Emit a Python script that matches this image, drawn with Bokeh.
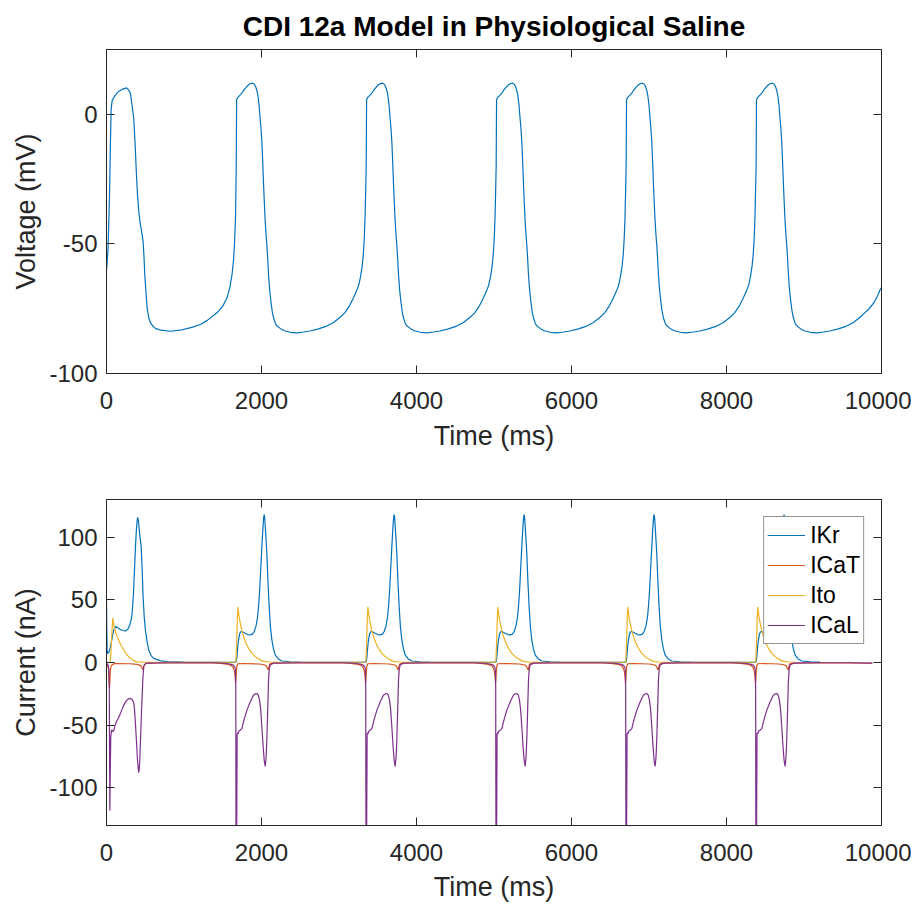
from bokeh.plotting import figure
from bokeh.models import LinearAxis, FixedTicker, Legend, LegendItem, Range1d
from bokeh.layouts import column
from bokeh.embed import file_html
from bokeh.resources import INLINE

# ---------------- data ----------------
TITLE = "CDI 12a Model in Physiological Saline"
X_TICKS = [0, 2000, 4000, 6000, 8000, 10000]
V_TICKS = [-100, -50, 0]
I_TICKS = [-100, -50, 0, 50, 100]
T_END = 10000
# upstroke times of beats 2..6 (ms)
ONSETS = [1674, 3351, 5028, 6705, 8382]

# ---- membrane voltage (mV) ----
# first beat, absolute time
V1_T = [0, 20, 40, 50, 60, 73, 100, 150, 200, 258, 290, 309, 330, 352, 370, 386, 400, 417, 432, 446, 460, 472,
        484, 494, 510, 524, 545, 567, 600, 631, 700, 824, 950, 1100, 1211, 1300, 1426, 1500, 1554, 1590, 1619,
        1640, 1653, 1665]
V1_V = [-60.4, -52, -30, -12, 2, 5.3, 6.8, 8.7, 9.6, 10.2, 9.2, 8.0, 3.5, -1.8, -12, -23, -31, -37.6, -41.5,
        -44, -46.5, -49, -55, -61.9, -69, -74.7, -78.5, -80.4, -81.8, -82.6, -83.3, -83.7, -83.3, -82.2, -81.1,
        -79.5, -76.6, -74, -70.9, -67, -62, -56, -49, -40]
# repeating beat, time offset from upstroke
VT_T = [0, 5, 15, 30, 55, 80, 105, 130, 155, 180, 210, 230, 250, 266, 280, 295, 309, 320, 331, 342, 353, 364,
        374, 385, 395, 405, 417, 432, 447, 464, 481, 500, 520, 567, 620, 700, 782, 870, 950, 1050, 1168, 1250,
        1334, 1400, 1463, 1510, 1548, 1580, 1605, 1625, 1640, 1652, 1662, 1670]
VT_V = [-20, 5.5, 6.3, 6.8, 7.6, 8.5, 9.6, 10.5, 11.3, 11.8, 12.0, 11.7, 10.8, 9.2, 7.2, 3.5, -1.8, -5.5, -10.7,
        -18.5, -27.4, -35, -41.4, -46.5, -50.4, -55, -61.9, -68, -72.1, -76, -78.5, -80.3, -81.5, -82.6, -83.5,
        -84.1, -84.3, -84.0, -83.6, -82.9, -81.7, -80.4, -78.5, -76.6, -73.8, -71, -68.5, -66, -62.5, -58.5,
        -54, -48, -40, -30]
# end of the record (last diastole), absolute time
VEND_T = [9840, 9900, 9950, 9982, 10000]
VEND_V = [-75, -72.8, -70, -67.7, -66.8]

# ---- currents (nA) ----
LEAD = 300  # repeating-beat tables start this many ms before the upstroke
# IKr
IKR1_T = [0, 3, 8, 15, 25, 40, 52, 65, 80, 95, 116, 150, 180, 215, 245, 275, 300, 318, 331, 348, 365, 376, 386,
          395, 403, 412, 425, 447, 460, 472, 487, 502, 525, 545, 575, 610, 700, 782, 1000, 1374]
IKR1_V = [50, 30, 10, 7, 7.8, 10, 12.7, 17, 22, 26, 28.6, 27.5, 26.3, 25.5, 25.2, 26.5, 30, 34, 39.3, 55, 79.3,
          95, 106, 113, 115.8, 113, 104, 92.6, 75, 52.6, 36, 26, 16, 10, 5.5, 3.3, 1.3, 0.7, 0.3, 0.2]
IKRT_T = [-300, -34, 0, 5, 9, 15, 22, 30, 45, 60, 85, 116, 150, 181, 210, 232, 255, 275, 288, 300, 315, 331,
          345, 355, 361, 368, 380, 395, 410, 425, 442, 460, 480, 503, 540, 589, 700, 825, 1650]
IKRT_V = [0.2, 0.1, 0.5, 2.5, 4.7, 9, 14, 18, 23, 24.7, 24.3, 23.3, 22.3, 22, 22.6, 24.7, 29, 36, 44.7, 55, 73,
          92.6, 108, 116, 118, 115, 103, 87.4, 64, 44.6, 28, 18, 11, 6, 3, 1.2, 0.5, 0.3, 0.2]
# ICaT
ICAT1_T = [0, 15, 25, 32, 39, 44, 50, 60, 100, 300, 400, 440, 460, 472, 485, 520, 800, 1374]
ICAT1_V = [-0.5, -2, -5, -12, -20.7, -14, -6, -2.5, -0.8, -1.0, -1.5, -2.5, -4.5, -6, -2, -0.5, -0.2, -0.3]
ICATT_T = [-300, -200, -100, -60, -40, -25, -15, -8, -3, 2, 8, 20, 100, 300, 370, 390, 405, 414, 420, 430, 460,
           800, 1200, 1500, 1620]
ICATT_V = [-0.3, -0.7, -1.5, -2.5, -4, -6.5, -10.5, -16.5, -13, -7, -3, -1, -0.8, -1.2, -2, -3, -5, -6, -4,
           -1.5, -0.5, -0.2, -0.3, -0.6, -2.5]
# Ito
ITO1_T = [0, 40, 52, 65, 75, 81, 90, 100, 120, 138, 180, 223, 265, 309, 350, 395, 500, 1374]
ITO1_V = [0, 0.1, 3, 18, 30, 35.4, 31.5, 28, 23.5, 20.7, 14.5, 10, 6, 3.3, 1.5, 0.5, 0.2, 0.2]
ITOT_T = [-300, -12, -4, 5, 14, 22, 30, 40, 52, 70, 95, 125, 159, 200, 245, 300, 353, 420, 500, 1650]
ITOT_V = [0.2, 0.2, 1, 15, 35, 44.2, 40, 35.5, 31.4, 26, 20.7, 15.5, 11.3, 7.5, 4.7, 2.3, 0.9, 0.4, 0.2, 0.2]
# ICaL
ICAL1_T = [0, 20, 30, 36, 40, 43, 48, 55, 64, 73, 80, 94, 110, 130, 155, 180, 215, 250, 280, 309, 330, 345, 352,
           362, 370, 386, 400, 410, 417, 428, 440, 450, 460, 470, 481, 500, 520, 800, 1374]
ICAL1_V = [-0.7, -2, -5, -20, -80, -118, -90, -60, -54, -54, -55, -54.5, -50, -47, -44, -40.6, -35, -31, -29,
           -28.6, -29.5, -31, -32.6, -38, -45, -62, -78, -85, -87.9, -80, -60, -42, -27, -12, -3, -1, -0.5, -0.2,
           -0.2]
ICALT_T = [-300, -150, -100, -60, -40, -25, -15, -10, -6, -3, 5, 12, 20, 24, 30, 50, 73, 100, 138, 180, 224, 250,
           267, 285, 301, 316, 331, 346, 361, 374, 385, 395, 406, 417, 427, 438, 480, 800, 1200, 1500, 1620]
ICALT_V = [-0.2, -0.6, -1, -1.5, -2, -3, -4, -7, -20, -145, -145, -57, -56, -57, -55, -54, -52.7, -46, -38, -31.5,
           -26, -24.9, -24.7, -26, -30, -38, -51.4, -66, -78, -82.8, -76, -62, -38, -14, -5, -2, -0.5, -0.2, -0.2,
           -0.5, -1.5]

BLUE, ORANGE, YELLOW, PURPLE = "#0072BD", "#D95319", "#EDB120", "#7E2F8E"
FONT = "Liberation Sans"
AX = "#262626"


def build(first_t, first_v, tpl_t, tpl_v, lead, end_t=None, end_v=None):
    """Concatenate the first beat, the repeating beat placed at each onset, and the record's end."""
    ts, vs = [], []
    for t, v in zip(first_t, first_v):
        if t < ONSETS[0] - lead:
            ts.append(t)
            vs.append(v)
    last_hi = end_t[0] if end_t else T_END + 1
    for i, on in enumerate(ONSETS):
        hi = ONSETS[i + 1] - lead if i + 1 < len(ONSETS) else last_hi
        for o, v in zip(tpl_t, tpl_v):
            t = on + o
            if on - lead <= t < hi:
                ts.append(t)
                vs.append(v)
    if end_t:
        ts += list(end_t)
        vs += list(end_v)
    return ts, vs


def style(p, xlabel, ylabel, yticks, x_label_standoff):
    p.outline_line_color = AX
    p.outline_line_width = 1
    p.grid.visible = False
    p.background_fill_color = "white"
    p.border_fill_color = "white"
    xa = p.xaxis[0]
    ya = p.yaxis[0]
    xa.ticker = FixedTicker(ticks=X_TICKS)
    ya.ticker = FixedTicker(ticks=yticks)
    ya.major_label_overrides = {t: str(t) for t in yticks}
    xa.axis_label = xlabel
    ya.axis_label = ylabel
    for a in (xa, ya):
        a.axis_line_color = AX
        a.major_tick_line_color = AX
        a.major_tick_in = 8
        a.major_tick_out = 0
        a.minor_tick_line_color = None
        a.major_label_text_font = FONT
        a.major_label_text_font_size = "24px"
        a.major_label_text_color = AX
        a.axis_label_text_font = FONT
        a.axis_label_text_font_size = "27px"
        a.axis_label_text_font_style = "normal"
        a.axis_label_text_color = AX
    xa.major_label_standoff = 18
    xa.axis_label_standoff = x_label_standoff
    ya.major_label_standoff = 9
    ya.axis_label_standoff = 5
    # box ticks on top and right
    top = LinearAxis(ticker=FixedTicker(ticks=X_TICKS), major_label_overrides={t: "" for t in X_TICKS},
                     major_tick_in=8, major_tick_out=0, minor_tick_line_color=None,
                     axis_line_color=AX, major_tick_line_color=AX, major_label_standoff=0,
                     major_label_text_font_size="0px")
    right = LinearAxis(ticker=FixedTicker(ticks=yticks), major_label_overrides={t: "" for t in yticks},
                       major_tick_in=8, major_tick_out=0, minor_tick_line_color=None,
                       axis_line_color=AX, major_tick_line_color=AX, major_label_standoff=0,
                       major_label_text_font_size="0px")
    p.add_layout(top, "above")
    p.add_layout(right, "right")


# ---------------- top: voltage ----------------
p1 = figure(width=911, height=474, output_backend="svg", toolbar_location=None,
            x_range=Range1d(0, 10000), y_range=Range1d(-100, 25),
            min_border_left=106, min_border_right=30, min_border_top=47, min_border_bottom=101)
p1.title.text = TITLE
p1.title.align = "center"
p1.title.text_font = FONT
p1.title.text_font_size = "28px"
p1.title.text_font_style = "bold"
p1.title.text_color = "black"
p1.title.standoff = 16
vt, vv = build(V1_T, V1_V, VT_T, VT_V, 0, VEND_T, VEND_V)
p1.line(vt, vv, line_color=BLUE, line_width=1.2)
style(p1, "Time (ms)", "Voltage (mV)", V_TICKS, 9)

# ---------------- bottom: currents ----------------
p2 = figure(width=911, height=431, output_backend="svg", toolbar_location=None,
            x_range=Range1d(0, 10000), y_range=Range1d(-130, 130),
            min_border_left=106, min_border_right=30, min_border_top=25, min_border_bottom=80)
series = [
    ("IKr", build(IKR1_T, IKR1_V, IKRT_T, IKRT_V, LEAD), BLUE),
    ("ICaT", build(ICAT1_T, ICAT1_V, ICATT_T, ICATT_V, LEAD), ORANGE),
    ("Ito", build(ITO1_T, ITO1_V, ITOT_T, ITOT_V, LEAD), YELLOW),
    ("ICaL", build(ICAL1_T, ICAL1_V, ICALT_T, ICALT_V, LEAD), PURPLE),
]
items = []
for name, (ts, vs), col in series:
    r = p2.line(ts, vs, line_color=col, line_width=1.2)
    items.append(LegendItem(label=name, renderers=[r]))
style(p2, "Time (ms)", "Current (nA)", I_TICKS, 8)

legend = Legend(items=items, location="top_right", margin=17, padding=3, spacing=0,
                label_text_font=FONT, label_text_font_size="23px", label_text_color="black",
                glyph_width=38, glyph_height=30, label_height=30, label_standoff=5,
                border_line_color=AX, border_line_width=1, background_fill_alpha=1)
p2.add_layout(legend)

layout = column(p1, p2, spacing=0)
open("out.html", "w").write(file_html(layout, INLINE))
